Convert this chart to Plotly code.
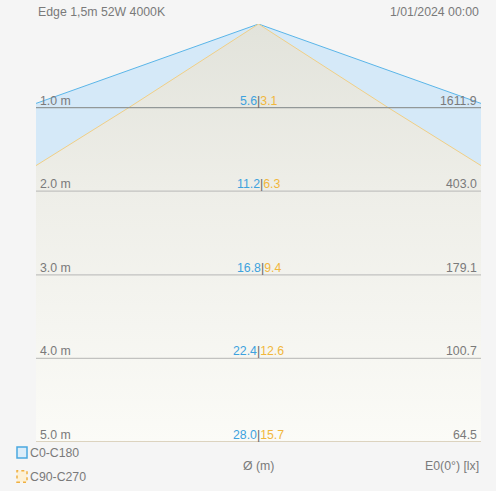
import plotly.graph_objects as go

# ---- data ----
distances = [1.0, 2.0, 3.0, 4.0, 5.0]
diam_c0 = [5.6, 11.2, 16.8, 22.4, 28.0]      # C0-C180 beam diameter (m)
diam_c90 = [3.1, 6.3, 9.4, 12.6, 15.7]       # C90-C270 beam diameter (m)
e0_lux = [1611.9, 403.0, 179.1, 100.7, 64.5]  # E0(0°) [lx]
dist_labels = ["1.0 m", "2.0 m", "3.0 m", "4.0 m", "5.0 m"]
title_left = "Edge 1,5m 52W 4000K"
title_right = "1/01/2024 00:00"
legend_names = ["C0-C180", "C90-C270"]

BLUE = "#3ea2de"
ORANGE = "#f1b73c"
GRAY_TXT = "#7a7a7a"
FS = 12.3

def cone(diams):
    xs = [0.0] + [-d / 2 for d in diams] + [d / 2 for d in reversed(diams)] + [0.0]
    ys = [0.0] + distances + list(reversed(distances)) + [0.0]
    return xs, ys

fig = go.Figure()

bx, by = cone(diam_c0)
fig.add_trace(go.Scatter(x=bx, y=by, mode="lines", fill="toself",
                         fillcolor="#d5e9f8", line=dict(color="#5ab5e8", width=1),
                         hoverinfo="skip", showlegend=False))
ox, oy = cone(diam_c90)
fig.add_trace(go.Scatter(x=ox, y=oy, mode="lines", fill="toself",
                         fillgradient=dict(type="vertical", start=0, stop=5,
                                           colorscale=[[0, "#e2e3db"], [0.4, "#eeeee8"], [1, "#fbfbf7"]]),
                         line=dict(color="#f0cf86", width=1),
                         hoverinfo="skip", showlegend=False))

HALF = 2.66
shapes = []
annotations = []
for i, d in enumerate(distances):
    shapes.append(dict(type="line", xref="paper", yref="y", x0=0, x1=1, y0=d, y1=d,
                       line=dict(color="#929898" if i == 0 else "#c2c2c0", width=1.2)))
    annotations.append(dict(x=0.005, xref="paper", y=d, yref="y", xanchor="left", yanchor="bottom",
                            text=dist_labels[i], showarrow=False, yshift=-2,
                            font=dict(size=FS, color=GRAY_TXT)))
    annotations.append(dict(x=0.995, xref="paper", y=d, yref="y", xanchor="right", yanchor="bottom",
                            text=f"{e0_lux[i]:.1f}", showarrow=False, yshift=-2,
                            font=dict(size=FS, color=GRAY_TXT)))
    annotations.append(dict(x=0, xref="x", y=d, yref="y", xanchor="center", yanchor="bottom",
                            text=(f"<span style='color:{BLUE}'>{diam_c0[i]:.1f}</span>"
                                  f"<span style='color:#666'>|</span>"
                                  f"<span style='color:{ORANGE}'>{diam_c90[i]:.1f}</span>"),
                            showarrow=False, yshift=-2, font=dict(size=FS)))

# titles
annotations.append(dict(x=0, xref="paper", y=1.029, yref="paper", xanchor="left", yanchor="middle",
                        text=title_left, showarrow=False, font=dict(size=FS, color=GRAY_TXT)))
annotations.append(dict(x=1, xref="paper", y=1.029, yref="paper", xanchor="right", yanchor="middle",
                        text=title_right, showarrow=False, font=dict(size=FS, color=GRAY_TXT)))
# bottom axis labels
annotations.append(dict(x=0.5, xref="paper", y=-0.057, yref="paper", xanchor="center", yanchor="middle",
                        text="Ø (m)", showarrow=False, font=dict(size=FS, color=GRAY_TXT)))
annotations.append(dict(x=1, xref="paper", y=-0.057, yref="paper", xanchor="right", yanchor="middle",
                        text="E0(0°) [lx]", showarrow=False, font=dict(size=FS, color=GRAY_TXT)))
# legend
annotations.append(dict(x=-0.017, xref="paper", y=-0.026, yref="paper", xanchor="left", yanchor="middle",
                        text=legend_names[0], showarrow=False, font=dict(size=FS, color=GRAY_TXT)))
annotations.append(dict(x=-0.017, xref="paper", y=-0.083, yref="paper", xanchor="left", yanchor="middle",
                        text=legend_names[1], showarrow=False, font=dict(size=FS, color=GRAY_TXT)))
shapes.append(dict(type="rect", xref="paper", yref="paper", x0=-0.0427, x1=-0.0202, y0=-0.038, y1=-0.012,
                   line=dict(color="#4aa8e0", width=1.5), fillcolor="#dcedf9"))
shapes.append(dict(type="rect", xref="paper", yref="paper", x0=-0.0427, x1=-0.0202, y0=-0.096, y1=-0.069,
                   line=dict(color="#f0b040", width=1.5, dash="dot"), fillcolor="#fdf1d6"))

fig.update_layout(
    width=496, height=491,
    margin=dict(l=36, r=15, t=24, b=49),
    paper_bgcolor="#f5f5f5", plot_bgcolor="#f5f5f5",
    font=dict(family="Liberation Sans, Arial, sans-serif"),
    xaxis=dict(range=[-HALF, HALF], visible=False, fixedrange=True),
    yaxis=dict(range=[5, 0], visible=False, fixedrange=True),
    shapes=shapes, annotations=annotations, showlegend=False,
)

fig.write_html("out.html", config={"displayModeBar": False},
               post_script="document.body.style.margin='0';document.body.style.background='#f5f5f5';")
